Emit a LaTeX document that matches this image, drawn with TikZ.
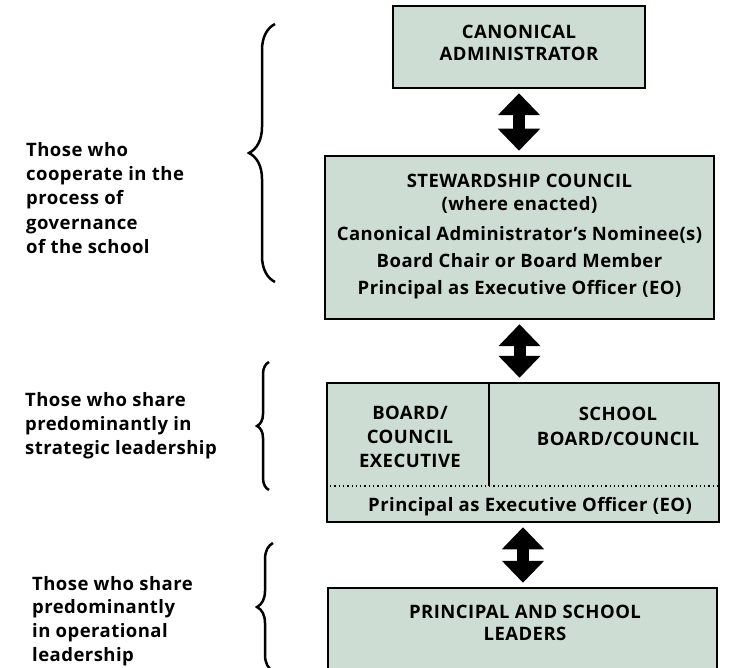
\documentclass[tikz,border=0pt]{standalone}
\usepackage{fontspec}
\setmainfont[LetterSpace=2.5]{Open Sans}
\usetikzlibrary{arrows.meta,decorations.pathreplacing,positioning}
\definecolor{boxfill}{RGB}{205,221,211}

\tikzset{
  orgbox/.style={draw, line width=2.5pt, fill=boxfill, inner sep=0pt},
  boxtext/.style={inner sep=0pt, align=center, font=\bfseries\fontsize{18.5}{23}\selectfont},
  sidetext/.style={inner sep=0pt, align=left, anchor=north west,
    font=\bfseries\fontsize{18.5}{24.3}\selectfont},
  bigarrow/.style={line width=12pt, shorten >=4pt, shorten <=4pt,
    {Triangle[width=41pt,length=22pt]}-{Triangle[width=41pt,length=22pt]}},
  sidebrace/.style={decorate, line width=2.5pt}
}

\begin{document}
\begin{tikzpicture}[x=1pt,y=-1pt]
        \clip (0,0) rectangle (731,668);

        %boxes
        \node[orgbox, minimum width=252pt, minimum height=82pt] (canon) at (519,47) {};
        \node[orgbox, minimum width=389pt, minimum height=163pt] (steward) at (519.5,237.5) {};
        \node[orgbox, minimum width=392pt, minimum height=139pt] (board) at (523,452.5) {};
        \node[orgbox, minimum width=389pt, minimum height=112pt] (leadbox) at (522.5,644) {};

        %box texts
        \node[boxtext, font=\bfseries\fontsize{18.5}{21.5}\selectfont] (canontext) at (519,43)
            {CANONICAL\\ADMINISTRATOR};
        \node[boxtext] (stewtext) at (519.5,236.5)
            {STEWARDSHIP COUNCIL\\(where enacted)\\[7pt]
             Canonical Administrator's Nominee(s)\\[4pt]
             Board Chair or Board Member\\[4pt]
             Principal as Executive Officer (EO)};
        \node[boxtext, font=\bfseries\fontsize{18.5}{24}\selectfont] (exec) at (410,437) {BOARD/\\COUNCIL\\EXECUTIVE};
        \node[boxtext, font=\bfseries\fontsize{18.5}{25}\selectfont] (school) at (618,426) {SCHOOL\\BOARD/COUNCIL};
        \node[boxtext] (eo) at (530,507) {Principal as Executive Officer (EO)};
        \node[boxtext, font=\bfseries\fontsize{18.5}{21.5}\selectfont] (leaders) at (525,623) {PRINCIPAL AND SCHOOL\\LEADERS};

        %divider
        \coordinate (divtop) at (489,383);
        \coordinate (divbot) at (489,486);
        \draw[line width=2.5pt] (divtop) -- (divbot);
        \draw[line width=1.3pt, dash pattern=on 1.3pt off 3pt] (board.west |- divbot) -- (board.east |- divbot);

        %arrows
        \draw[bigarrow] (canon.south) -- (canon.south |- steward.north);
        \draw[bigarrow] (steward.south) -- (steward.south |- board.north);
        \draw[bigarrow] (board.south) -- (board.south |- leadbox.north);

        %side texts
        \node[sidetext] (govern) at (26,142)
            {Those who\\cooperate in the\\process of\\governance\\of the school};
        \node[sidetext] (strategic) at (25,392)
            {Those who share\\predominantly in\\strategic leadership};
        \node[sidetext, font=\bfseries\fontsize{18.5}{23.7}\selectfont] (operational) at (32,576)
            {Those who share\\predominantly\\in operational\\leadership};

        %braces
        \draw[sidebrace, decoration={brace, amplitude=26pt}] (275,282) -- (275,24);
        \draw[sidebrace, decoration={brace, amplitude=12pt}] (269,490) -- (269,362);
        \draw[sidebrace, decoration={brace, amplitude=16pt}] (273,671) -- (273,543);
    \end{tikzpicture}
\end{document}
